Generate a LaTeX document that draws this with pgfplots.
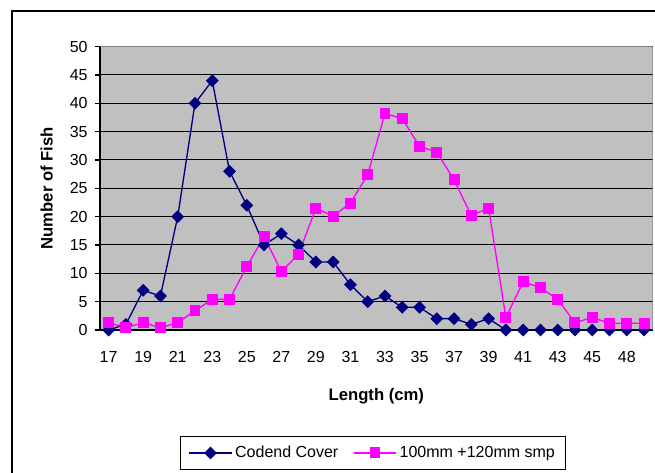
\documentclass[border=0pt]{standalone}
\usepackage{pgfplots}
\pgfplotsset{compat=1.18}
\usepackage{fontspec}
\setmainfont{Liberation Sans}

\definecolor{codend}{HTML}{000080}
\definecolor{smp}{HTML}{FF00FF}
\definecolor{plotbg}{HTML}{C0C0C0}
\definecolor{plotedge}{HTML}{808080}

% Length classes are plotted at positions 0..31; labels every second class
\pgfplotstableread{
idx cover smp
0   0   1.3
1   1   0.4
2   7   1.3
3   6   0.4
4   20  1.3
5   40  3.4
6   44  5.4
7   28  5.4
8   22  11.2
9   15  16.5
10  17  10.3
11  15  13.4
12  12  21.5
13  12  20.1
14  8   22.4
15  5   27.4
16  6   38.2
17  4   37.3
18  4   32.4
19  2   31.4
20  2   26.5
21  1   20.2
22  2   21.5
23  0   2.2
24  0   8.5
25  0   7.5
26  0   5.4
27  0   1.3
28  0   2.2
29  0   1.2
30  0   1.2
31  0   1.2
}\fishdata

\begin{document}
\begin{tikzpicture}
\useasboundingbox (0,0) rectangle (491.25pt,354.75pt);
% chart area frame
\draw[line width=0.9pt] (9pt,-20pt) -- (9pt,346.5pt) -- (520pt,346.5pt);
\begin{axis}[
  at={(75pt,107.25pt)}, anchor=south west,
  scale only axis, width=414.5pt, height=212.5pt,
  xmin=-0.5, xmax=31.5, ymin=0, ymax=50,
  axis x line*=bottom, axis y line*=left,
  axis line style={black, line width=1pt},
  axis background/.style={fill=plotbg},
  xtick={0,2,...,30},
  xticklabels={17,19,21,23,25,27,29,31,33,35,37,39,41,43,45,48},
  x tick style={draw=none},
  extra x ticks={-0.5,1.5,...,31.5},
  extra x tick labels={},
  extra x tick style={tick style={draw=black, line width=0.9pt}, major tick length=3.75pt},
  ytick={0,5,...,50},
  y tick style={black, line width=0.9pt},
  tick align=outside, major tick length=3.75pt,
  ymajorgrids, grid style={black, line width=0.75pt},
  /pgf/number format/assume math mode=true,
  tick label style={font=\fontsize{12}{14}\selectfont, text=black},
  xticklabel style={yshift=-9pt},
  yticklabel style={xshift=-2pt},
  xlabel={Length (cm)}, ylabel={Number of Fish},
  label style={font=\fontsize{12.5}{15}\selectfont\bfseries},
  xlabel style={at={(axis description cs:0.5,-0.233)}, anchor=center},
  ylabel style={at={(axis description cs:-0.0964,0.5)}, anchor=center},
  legend columns=2,
  legend style={at={(0.494,-0.434)}, anchor=center, draw=black, line width=0.75pt,
    fill=white, font=\fontsize{12}{14}\selectfont, inner xsep=6pt, inner ysep=5pt,
    /tikz/every even column/.append style={column sep=9pt}},
  legend image code/.code={
    \draw[mark repeat=2, mark phase=2, #1] plot coordinates {(0pt,0pt) (16pt,0pt) (32pt,0pt)};
  },
]
\addplot[codend, line width=1pt, mark=square*, mark size=2.9pt,
  mark options={rotate=45, fill=codend, draw=codend}]
  table[x=idx, y=cover] {\fishdata};
\addplot[smp, line width=1pt, mark=square*, mark size=3.6pt,
  mark options={fill=smp, draw=smp}]
  table[x=idx, y=smp] {\fishdata};
% plot area edge on the top and right
\draw[plotedge, line width=1pt] (rel axis cs:0,1) -- (rel axis cs:1,1) -- (rel axis cs:1,0);
\legend{Codend Cover, 100mm +120mm smp}
\end{axis}
\end{tikzpicture}
\end{document}
